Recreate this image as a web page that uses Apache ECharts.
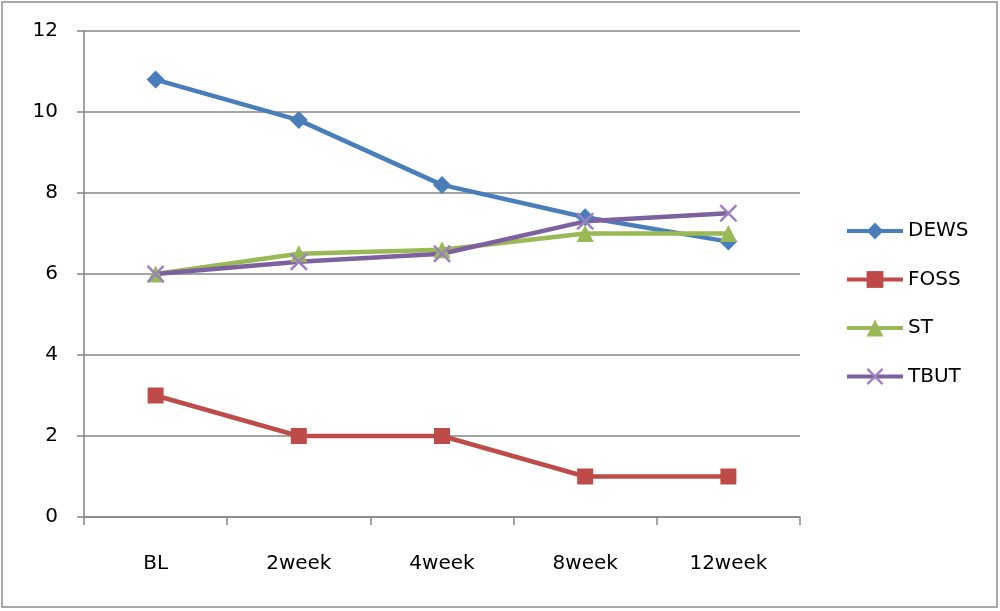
<!DOCTYPE html>
<html lang="en">
<head>
<meta charset="UTF-8">
<title>DEWS / FOSS / ST / TBUT</title>
<script src="https://cdn.jsdelivr.net/npm/echarts@6/dist/echarts.min.js"></script>
<style>
  html, body { margin: 0; padding: 0; background: #fff; }
  #main { width: 1000px; height: 611px; }
</style>
</head>
<body>
<div id="main"></div>
<script>
var categories = ['BL', '2week', '4week', '8week', '12week'];
var dews = [10.8, 9.8, 8.2, 7.4, 6.8];
var foss = [3, 2, 2, 1, 1];
var st = [6, 6.5, 6.6, 7.0, 7.0];
var tbut = [6, 6.3, 6.5, 7.3, 7.5];

var crossPath = 'path://M0,1L1,0L5,4L9,0L10,1L6,5L10,9L9,10L5,6L1,10L0,9L4,5Z';

var myChart = echarts.init(document.getElementById('main'));

function line(name, data, color, symbol, size, markColor) {
    return {
        name: name,
        type: 'line',
        data: data,
        symbol: symbol,
        symbolSize: size,
        lineStyle: { color: color, width: 4.5 },
        itemStyle: { color: markColor || color },
        emphasis: { disabled: true },
        z: 3
    };
}

var option = {
    animation: false,
    textStyle: { fontFamily: 'DejaVu Sans' },
    graphic: [{
        type: 'rect',
        shape: { x: 2, y: 2, width: 995, height: 605 },
        style: { fill: 'none', stroke: '#8c8c8c', lineWidth: 1.5 },
        silent: true
    }],
    grid: { left: 84, right: 200, top: 31, bottom: 94 },
    legend: {
        orient: 'vertical',
        left: 840,
        top: 216,
        itemWidth: 56,
        itemHeight: 21,
        itemGap: 28.5,
        itemStyle: { borderWidth: 0 },
        lineStyle: { width: 4 },
        textStyle: { fontSize: 20, color: '#000', fontFamily: 'DejaVu Sans' },
        data: ['DEWS', 'FOSS', 'ST', 'TBUT']
    },
    xAxis: {
        type: 'category',
        data: categories,
        boundaryGap: true,
        axisLine: { lineStyle: { color: '#868686', width: 1.5 } },
        axisTick: { show: true, length: 8, lineStyle: { color: '#868686', width: 1.5 } },
        axisLabel: { color: '#000', fontSize: 20, margin: 37 }
    },
    yAxis: {
        type: 'value',
        min: 0,
        max: 12,
        interval: 2,
        axisLine: { show: true, lineStyle: { color: '#868686', width: 1.5 } },
        axisTick: { show: true, length: 7, lineStyle: { color: '#868686', width: 1.5 } },
        splitLine: { lineStyle: { color: '#868686', width: 1.5 } },
        axisLabel: { color: '#000', fontSize: 20, margin: 26 }
    },
    series: [
        line('DEWS', dews, '#4a7ebb', 'diamond', 18),
        line('FOSS', foss, '#be4b48', 'rect', 16),
        line('ST', st, '#98b954', 'triangle', 17),
        line('TBUT', tbut, '#7d60a0', crossPath, 18, '#9c83c0')
    ]
};

myChart.setOption(option);
</script>
</body>
</html>
